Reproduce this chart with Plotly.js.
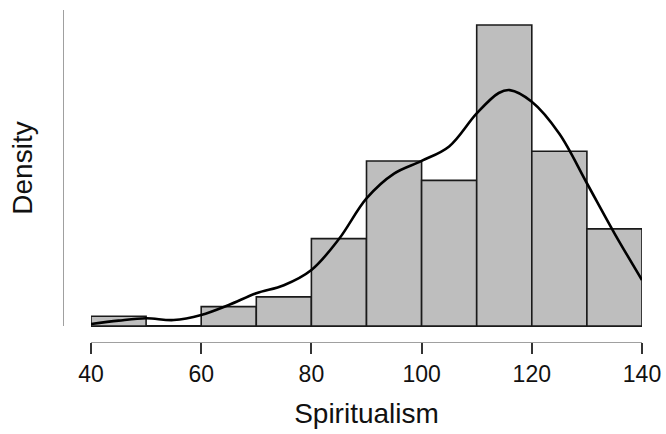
<!DOCTYPE html>
<html>
<head>
<meta charset="utf-8">
<script src="https://cdn.plot.ly/plotly-3.0.1.min.js"></script>
<style>html,body{margin:0;padding:0;background:#fff;}#chart{width:666px;height:434px;}</style>
</head>
<body>
<div id="chart"></div>
<script>
// Histogram bins (Spiritualism), bin width 10
var binMids = [45, 55, 65, 75, 85, 95, 105, 115, 125, 135];
var binCounts = [1, 0, 2, 3, 9, 17, 15, 31, 18, 10];
var binWidth = 10;

// Kernel density curve
var kdeX = [40, 45, 50, 55, 60, 65, 70, 75, 80, 85, 90, 95, 100, 105, 110, 114, 116, 120, 125, 130, 135, 140];
var kdeY = [0.00019, 0.00052, 0.00075, 0.00058, 0.00107, 0.00204, 0.00318, 0.00396, 0.00544, 0.00845,
            0.01240, 0.01481, 0.01604, 0.01745, 0.02066, 0.02264, 0.02292, 0.02179, 0.01868, 0.01387,
            0.00901, 0.00447];

var xTicks = [40, 60, 80, 100, 120, 140];

var total = binCounts.reduce(function(a, b){ return a + b; }, 0);
var binDensity = binCounts.map(function(c){ return c / (total * binWidth); });

var W = 666, H = 434;
var mL = 63, mR = 24, mT = 10, mB = 92;
var paperW = W - mL - mR, paperH = H - mT - mB;
var xDomLeft = (91 - mL) / paperW;
var yDomBottom = 16 / paperH;
var yTop = 0.030703;

var traces = [
  {
    type: 'bar',
    x: binMids,
    y: binDensity,
    width: binWidth,
    marker: {color: '#bebebe', line: {color: '#1a1a1a', width: 1.6}},
    hoverinfo: 'skip'
  },
  {
    type: 'scatter',
    mode: 'lines',
    x: kdeX,
    y: kdeY,
    line: {color: '#000000', width: 2.6, shape: 'spline', smoothing: 1},
    hoverinfo: 'skip'
  }
];

var layout = {
  width: W, height: H,
  margin: {l: mL, r: mR, t: mT, b: mB, pad: 0},
  paper_bgcolor: '#ffffff', plot_bgcolor: '#ffffff',
  showlegend: false,
  bargap: 0,
  font: {family: 'Liberation Sans, Arial, sans-serif', color: '#111111'},
  xaxis: {
    domain: [xDomLeft, 1],
    range: [40, 140],
    anchor: 'free', position: 0,
    tickvals: xTicks,
    ticktext: xTicks.map(String),
    ticks: 'outside', ticklen: 11, tickwidth: 2, tickcolor: '#333333',
    showline: true, linecolor: '#a0a0a0', linewidth: 1,
    showgrid: false, zeroline: false,
    tickfont: {size: 23, color: '#111111'},
    title: {text: 'Spiritualism', font: {size: 28, color: '#111111'}, standoff: 17},
    automargin: false, fixedrange: true
  },
  yaxis: {
    domain: [yDomBottom, 1],
    range: [0, yTop],
    anchor: 'free', position: 0,
    showline: true, linecolor: '#a0a0a0', linewidth: 1,
    showticklabels: false, ticks: '',
    showgrid: false,
    zeroline: true, zerolinecolor: '#1a1a1a', zerolinewidth: 1.6,
    title: {text: 'Density', font: {size: 28, color: '#111111'}, standoff: 21},
    automargin: false, fixedrange: true
  }
};

Plotly.newPlot('chart', traces, layout, {displayModeBar: false, staticPlot: true});
</script>
</body>
</html>
